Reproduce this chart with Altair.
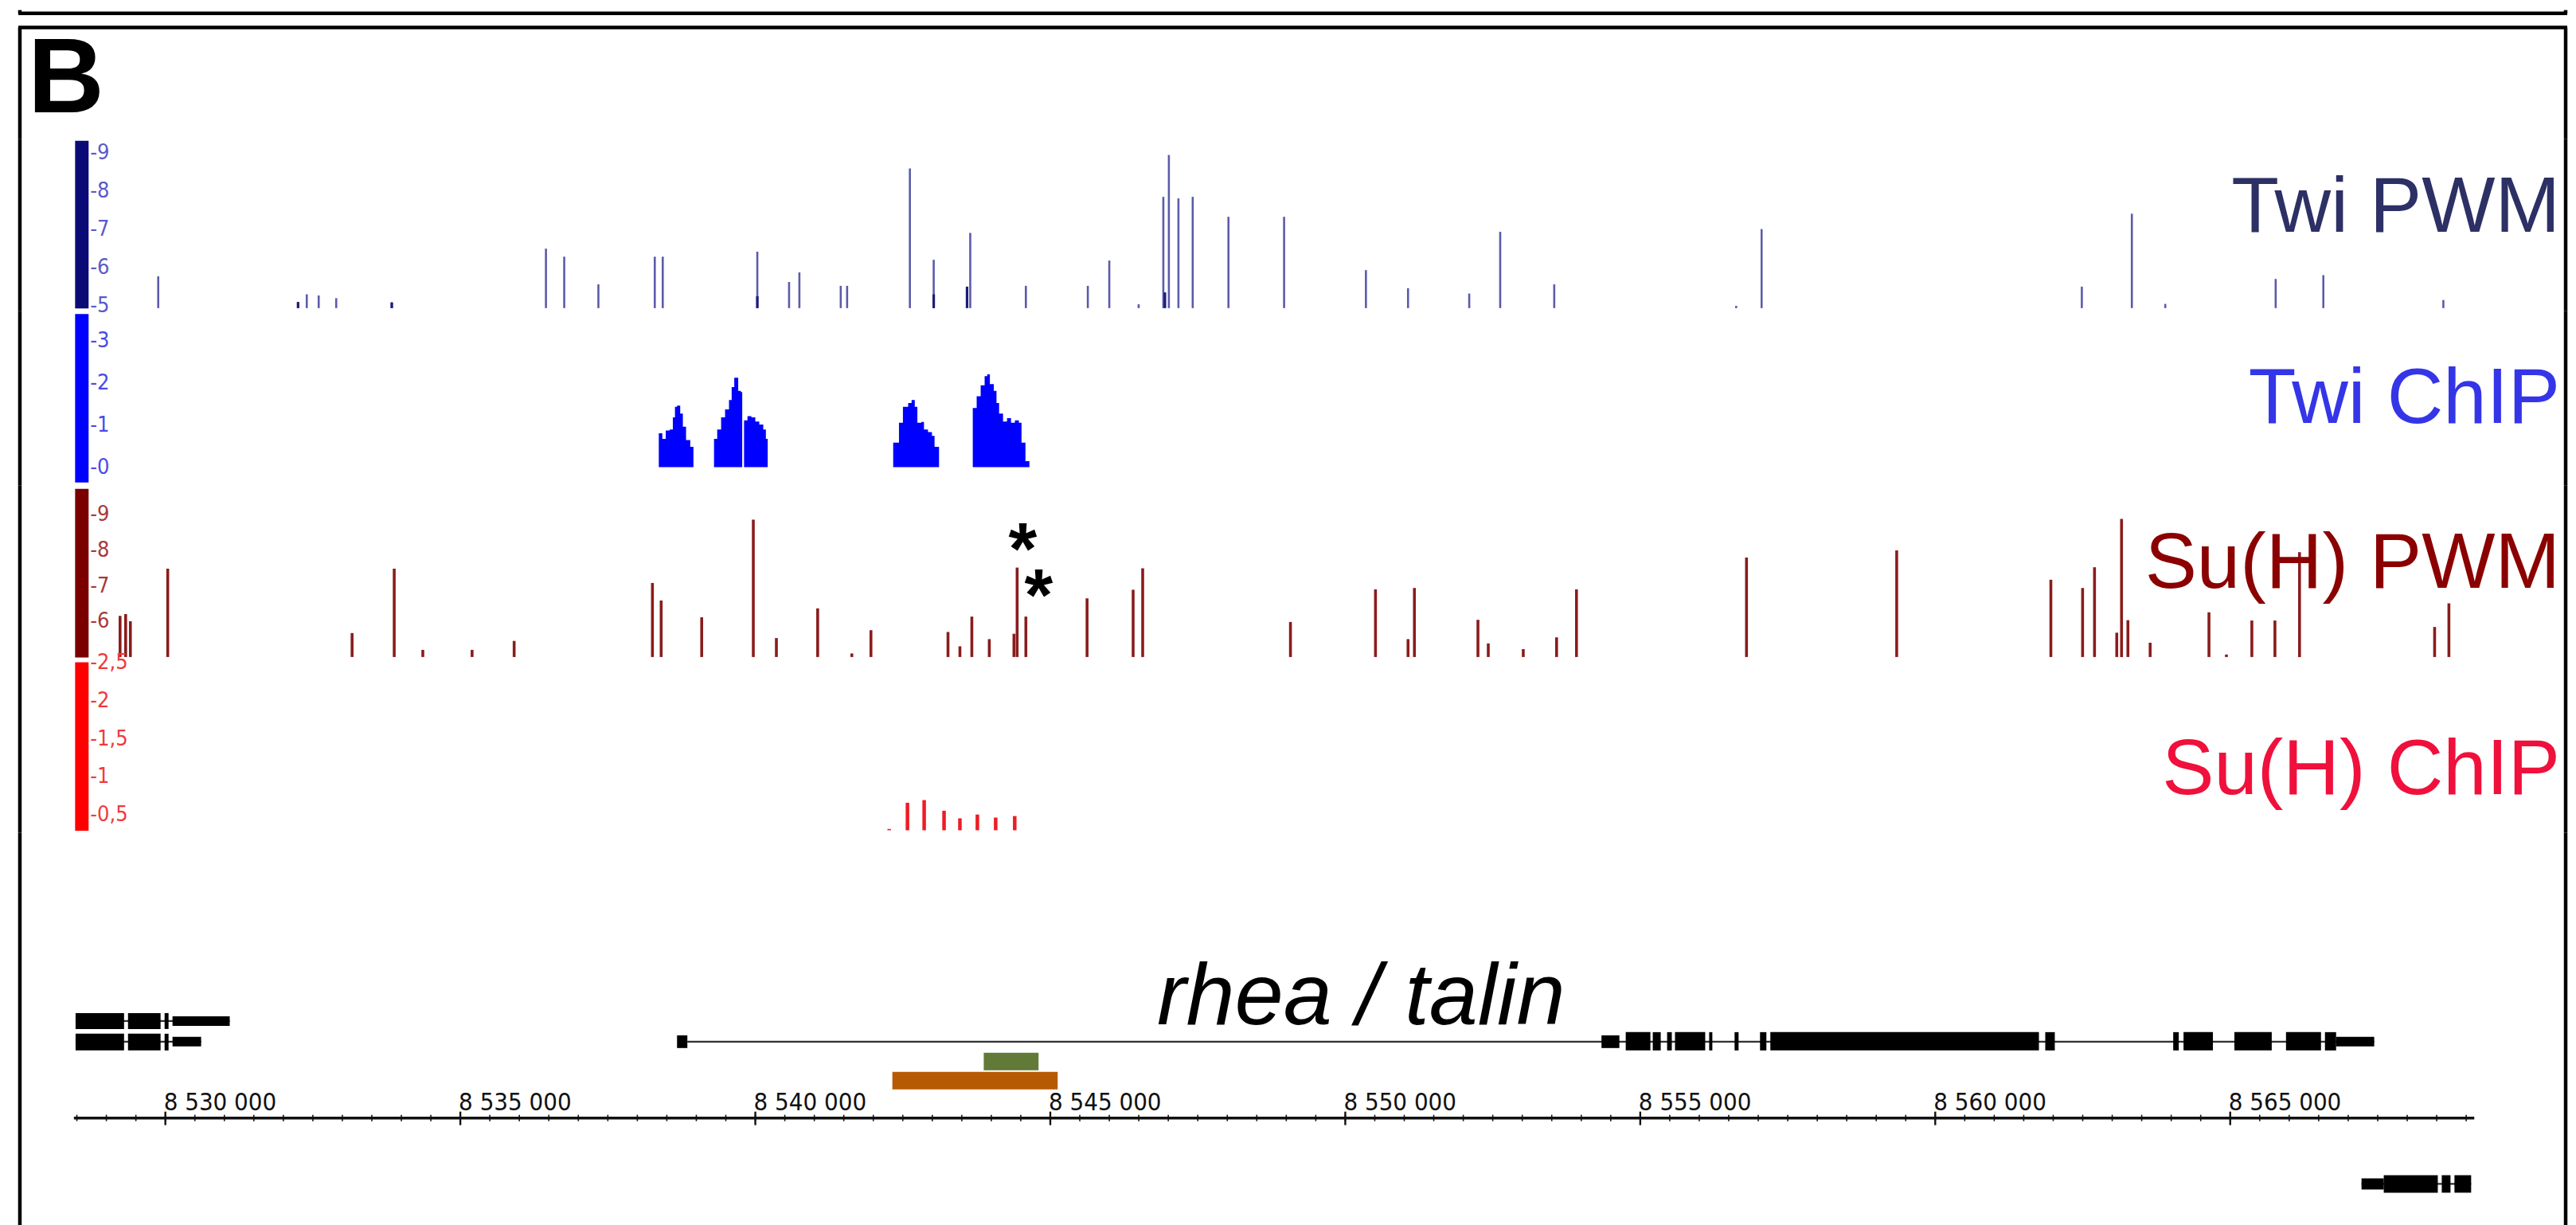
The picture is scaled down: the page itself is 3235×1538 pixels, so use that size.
import altair as alt
import pandas as pd

# ---------------- data (genomic positions in bp, scores as read) ----------------
TWI_PWM_POS = [8529879, 8532249, 8532397, 8532599, 8532896, 8533838, 8536451, 8536761, 8537340,
               8538296, 8538431, 8540034, 8540572, 8540747, 8541448, 8541556, 8542620, 8543024,
               8543643, 8544586, 8545636, 8546000, 8546498, 8546916, 8547010, 8547172, 8547414,
               8548020, 8548963, 8550350, 8551064, 8552101, 8552626, 8553542, 8556626, 8557057,
               8562485, 8563333, 8563899, 8565771, 8566579, 8568613]
TWI_PWM_SCORE = [5.77, 5.1, 5.3, 5.27, 5.2, 5.1, 6.49, 6.28, 5.56,
                 6.28, 6.28, 6.41, 5.62, 5.87, 5.52, 5.52, 8.58, 6.2,
                 6.9, 5.52, 5.52, 6.18, 5.04, 7.84, 8.93, 7.8, 7.84,
                 7.32, 7.32, 5.93, 5.46, 5.32, 6.93, 5.56, 5.0, 7.0,
                 5.5, 7.4, 5.05, 5.7, 5.8, 5.15]
TWI_PWM_DARK_POS = [8532249, 8533838, 8540034, 8543024, 8543589, 8546943]
TWI_PWM_DARK_SCORE = [5.1, 5.08, 5.25, 5.3, 5.5, 5.35]

TWI_CHIP_POS = [8538364, 8538424, 8538482, 8538549, 8538602, 8538638, 8538673, 8538727, 8538772,
                8538826, 8538897, 8538951,
                8539300, 8539354, 8539420, 8539487, 8539554, 8539599, 8539643, 8539710, 8539755,
                8539778, 8539809, 8539867, 8539934, 8540000, 8540067, 8540135, 8540179, 8540210,
                8542337, 8542435, 8542502, 8542591, 8542649, 8542703, 8542747, 8542815, 8542859,
                8542927, 8542994, 8543038, 8543114,
                8543686, 8543752, 8543820, 8543887, 8543931, 8543976, 8544043, 8544088, 8544132,
                8544199, 8544267, 8544334, 8544400, 8544467, 8544512, 8544579, 8544646]
TWI_CHIP_SIGNAL = [0.80, 0.67, 0.87, 0.89, 1.18, 1.43, 1.46, 1.27, 0.96,
                   0.64, 0.48, 0.0,
                   0.67, 0.89, 1.18, 1.37, 1.59, 1.90, 2.12, 1.81, 1.78,
                   0.0, 1.11, 1.21, 1.18, 1.08, 1.01, 0.89, 0.67, 0.0,
                   0.58, 1.05, 1.43, 1.52, 1.59, 1.43, 1.05, 1.07, 0.89,
                   0.83, 0.74, 0.48, 0.0,
                   1.40, 1.68, 1.94, 2.16, 2.20, 1.97, 1.81, 1.52, 1.27,
                   1.08, 1.16, 1.05, 1.11, 1.05, 0.58, 0.14, 0.0]

SUH_PWM_POS = [8529232, 8529327, 8529407, 8530040, 8533165, 8533879, 8534364, 8535199, 8535912,
               8538256, 8538404, 8539091, 8539966, 8540357, 8541057, 8541636, 8541960, 8543266,
               8543468, 8543670, 8543966, 8544384, 8544438, 8544586, 8545623, 8546404, 8546566,
               8549071, 8550512, 8551064, 8551172, 8552249, 8552424, 8553017, 8553582, 8553919,
               8556801, 8559347, 8561960, 8562498, 8562700, 8563077, 8563158, 8563266, 8563643,
               8564640, 8564936, 8565367, 8565758, 8566175, 8568465, 8568707]
SUH_PWM_SCORE = [6.15, 6.2, 6.0, 7.47, 5.67, 7.47, 5.2, 5.2, 5.45,
                 7.07, 6.58, 6.11, 8.84, 5.53, 6.36, 5.1, 5.75, 5.7,
                 5.3, 6.13, 5.5, 5.65, 7.5, 6.13, 6.64, 6.88, 7.48,
                 5.98, 6.89, 5.5, 6.93, 6.04, 5.38, 5.22, 5.55, 6.89,
                 7.78, 7.98, 7.16, 6.93, 7.51, 5.68, 8.86, 6.03, 5.4,
                 6.25, 5.07, 6.02, 6.02, 7.93, 5.84, 6.5]
STAR_POS = [8544532, 8544801]
STAR_SCORE = [8.3, 7.0]

SUH_CHIP_POS = [8542269, 8542579, 8542862, 8543199, 8543468, 8543764, 8544074, 8544397]
SUH_CHIP_SIGNAL = [0.31, 0.655, 0.69, 0.55, 0.45, 0.5, 0.46, 0.48]

# gene models: (start, end) in bp
RHEA_SPAN = [(8538848, 8567441)]
RHEA_CDS = [(8554754, 8555172), (8555212, 8555347), (8555455, 8555535), (8555589, 8556101),
            (8556168, 8556222), (8556599, 8556667), (8557030, 8557138), (8557205, 8561758),
            (8561865, 8562027), (8564034, 8564128), (8564209, 8564707), (8565071, 8565704),
            (8565946, 8566539), (8566606, 8566795)]
RHEA_UTR5 = [(8538673, 8538848), (8554343, 8554646)]
RHEA_UTR3 = [(8566795, 8567441)]
LEFT_A_SPAN = [(8528478, 8531091)]
LEFT_A_CDS = [(8528478, 8529300), (8529367, 8529919), (8529987, 8530054)]
LEFT_A_UTR = [(8530121, 8531091)]
LEFT_B_SPAN = [(8528478, 8530606)]
LEFT_B_CDS = [(8528478, 8529300), (8529367, 8529919), (8529987, 8530054)]
LEFT_B_UTR = [(8530121, 8530606)]
RIGHT_SPAN = [(8567226, 8569084)]
RIGHT_CDS = [(8567603, 8568519), (8568586, 8568734), (8568801, 8569084)]
RIGHT_UTR = [(8567226, 8567603)]
GREEN_REGION = [(8543872, 8544801)]
ORANGE_REGION = [(8542323, 8545125)]

RULER_SPAN = [(8528450, 8569137)]
MAJOR_TICKS = [8530000, 8535000, 8540000, 8545000, 8550000, 8555000, 8560000, 8565000]
MAJOR_LABELS = ["8 530 000", "8 535 000", "8 540 000", "8 545 000",
                "8 550 000", "8 555 000", "8 560 000", "8 565 000"]
MINOR_TICKS = list(range(8528500, 8569001, 500))

TRACK_NAMES = ["Twi PWM", "Twi ChIP", "Su(H) PWM", "Su(H) ChIP"]
GENE_NAME = "rhea / talin"

# ---------------- layout / style ----------------
W = 3208
X_DOMAIN = [8527507, 8570713]
AXIS_X = 79.5
FONT = "Liberation Sans, Arial, Helvetica, sans-serif"
TICK_FONT = "DejaVu Sans Condensed, DejaVu Sans, sans-serif"
one = pd.DataFrame({"k": [0]})


def X(field="pos"):
    return alt.X(f"{field}:Q", scale=alt.Scale(domain=X_DOMAIN, nice=False, zero=False), axis=None)


def frame(h, top=0):
    base = alt.Chart(one).mark_rule(color="black", strokeWidth=4.5)
    return [base.encode(x=alt.value(2), y=alt.value(top), y2=alt.value(h)),
            base.encode(x=alt.value(W - 2), y=alt.value(top), y2=alt.value(h))]


def yenc(field, lo, hi, rng, values, label_color, bar_color):
    return alt.Y(f"{field}:Q",
                 scale=alt.Scale(domain=[lo, hi], range=rng, nice=False, zero=False),
                 axis=alt.Axis(orient="right", offset=AXIS_X - W, domainColor=bar_color,
                               domainWidth=17, domainCap="butt", ticks=False, tickSize=0,
                               labelPadding=10.5, labelColor=label_color, labelFont=TICK_FONT,
                               labelFontSize=27, values=values, grid=False, title=None,
                               labelOverlap=False, labelFlush=False,
                               labelExpr="'-' + replace(toString(datum.value), '.', ',')"))


def track_label(text, color, level):
    return alt.Chart(one).mark_text(text=text, color=color, font=FONT, fontSize=98,
                                    align="right", baseline="middle").encode(
        x=alt.value(W - 9), y=alt.datum(level))


# ---------------- header panel ----------------
H0 = 162
header = alt.layer(
    alt.Chart(one).mark_rule(color="black", strokeWidth=4.5).encode(
        x=alt.value(0), x2=alt.value(W), y=alt.value(4)),
    alt.Chart(one).mark_rule(color="black", strokeWidth=4.5).encode(
        x=alt.value(2), y=alt.value(0), y2=alt.value(4)),
    alt.Chart(one).mark_rule(color="black", strokeWidth=4.5).encode(
        x=alt.value(W - 2), y=alt.value(0), y2=alt.value(4)),
    alt.Chart(one).mark_rule(color="black", strokeWidth=4.5).encode(
        x=alt.value(0), x2=alt.value(W), y=alt.value(22)),
    *frame(H0, 22),
    alt.Chart(one).mark_text(text="B", font=FONT, fontSize=133, fontWeight="bold", color="black",
                             align="left", baseline="alphabetic").encode(
        x=alt.value(12), y=alt.value(129)),
).properties(width=W, height=H0)

# ---------------- Twi PWM ----------------
H1 = 217
twi_pwm = pd.DataFrame({"pos": TWI_PWM_POS, "score": TWI_PWM_SCORE})
twi_dark = pd.DataFrame({"pos": TWI_PWM_DARK_POS, "score": TWI_PWM_DARK_SCORE})
y1 = yenc("score", 4.94, 9.31, [213, 2], [5, 6, 7, 8, 9], "#5a5ac8", "#0b0b78")
p1 = alt.layer(
    alt.Chart(twi_pwm).mark_rule(color="#5b5bab", strokeWidth=2.6).encode(
        x=X(), y=y1, y2=alt.datum(4.94)),
    alt.Chart(twi_dark).mark_rule(color="#1c1c7a", strokeWidth=3.2).encode(
        x=X(), y=alt.Y("score:Q"), y2=alt.datum(4.94)),
    track_label(TRACK_NAMES[0], "#2d3065", 7.54),
    *frame(H1),
).properties(width=W, height=H1)

# ---------------- Twi ChIP ----------------
H2 = 219
twi_chip = pd.DataFrame({"pos": TWI_CHIP_POS, "signal": TWI_CHIP_SIGNAL})
y2e = yenc("signal", -0.358, 3.64, [215, 3], [0, 1, 2, 3], "#4a4ae6", "#0000ff")
p2 = alt.layer(
    alt.Chart(twi_chip).mark_area(color="#0000ff", interpolate="step-after").encode(
        x=X(), y=y2e, y2=alt.datum(0)),
    track_label(TRACK_NAMES[1], "#3535e8", 1.59),
    *frame(H2),
).properties(width=W, height=H2)

# ---------------- Su(H) PWM ----------------
H3 = 219
suh_pwm = pd.DataFrame({"pos": SUH_PWM_POS, "score": SUH_PWM_SCORE})
stars = pd.DataFrame({"pos": STAR_POS, "score": STAR_SCORE})
y3 = yenc("score", 5.0, 9.71, [216, 4], [6, 7, 8, 9], "#a83838", "#7a0000")
p3 = alt.layer(
    alt.Chart(suh_pwm).mark_rule(color="#8a1c1c", strokeWidth=3.6).encode(
        x=X(), y=y3, y2=alt.datum(5.0)),
    alt.Chart(stars).mark_text(text="*", font=FONT, fontSize=92, fontWeight="bold",
                               color="black", align="center", baseline="alphabetic", dy=44).encode(
        x=X(), y=alt.Y("score:Q")),
    track_label(TRACK_NAMES[2], "#8b0000", 7.57),
    *frame(H3),
).properties(width=W, height=H3)

# ---------------- Su(H) ChIP ----------------
H4 = 218
suh_chip = pd.DataFrame({"pos": SUH_CHIP_POS, "signal": SUH_CHIP_SIGNAL})
y4 = yenc("signal", 0.293, 2.51, [215, 3], [0.5, 1, 1.5, 2, 2.5], "#f03a3a", "#ff0000")
p4 = alt.layer(
    alt.Chart(suh_chip).mark_rule(color="#ee1c24", strokeWidth=4.5).encode(
        x=X(), y=y4, y2=alt.datum(0.293)),
    track_label(TRACK_NAMES[3], "#f0103c", 1.07),
    *frame(H4),
).properties(width=W, height=H4)

# ---------------- genes + ruler ----------------
H5 = 495


def spans(lst):
    return pd.DataFrame({"start": [a for a, b in lst], "end": [b for a, b in lst]})


def boxes(lst, top, bottom, color="black"):
    return alt.Chart(spans(lst)).mark_rect(color=color).encode(
        x=X("start"), x2="end:Q", y=alt.value(top), y2=alt.value(bottom))


def line(lst, yc, width=2.2, color="#303030"):
    return alt.Chart(spans(lst)).mark_rule(color=color, strokeWidth=width).encode(
        x=X("start"), x2="end:Q", y=alt.value(yc))


majors = pd.DataFrame({"pos": MAJOR_TICKS, "label": MAJOR_LABELS})
minors = pd.DataFrame({"pos": MINOR_TICKS})

p5 = alt.layer(
    # left neighbouring gene, two transcripts
    line(LEFT_A_SPAN, 237), boxes(LEFT_A_CDS, 227, 247), boxes(LEFT_A_UTR, 231, 243),
    line(LEFT_B_SPAN, 263), boxes(LEFT_B_CDS, 253, 274), boxes(LEFT_B_UTR, 257, 269),
    # rhea / talin
    line(RHEA_SPAN, 263, 2.4), boxes(RHEA_CDS, 251, 274), boxes(RHEA_UTR5, 255, 271),
    boxes(RHEA_UTR3, 257, 269),
    alt.Chart(one).mark_text(text=GENE_NAME, font=FONT, fontSize=110, fontStyle="italic",
                             color="black", align="center", baseline="alphabetic").encode(
        x=alt.value(1690), y=alt.value(241)),
    # fragments
    boxes(GREEN_REGION, 277, 299, "#617a37"),
    boxes(ORANGE_REGION, 301, 323, "#b65a04"),
    # ruler
    line(RULER_SPAN, 359, 3.5, "#111111"),
    alt.Chart(minors).mark_rule(color="#111111", strokeWidth=1.6).encode(
        x=X(), y=alt.value(355), y2=alt.value(363)),
    alt.Chart(majors).mark_rule(color="#111111", strokeWidth=2.4).encode(
        x=X(), y=alt.value(351), y2=alt.value(368)),
    alt.Chart(majors).mark_text(font=TICK_FONT, fontSize=31, color="#111111", align="left",
                                baseline="alphabetic", dx=-2).encode(
        x=X(), y=alt.value(349), text="label:N"),
    # right neighbouring gene
    line(RIGHT_SPAN, 442), boxes(RIGHT_CDS, 431, 453), boxes(RIGHT_UTR, 435, 449),
    *frame(H5),
).properties(width=W, height=H5)

chart = alt.vconcat(header, p1, p2, p3, p4, p5, spacing=0, bounds="flush").resolve_scale(
    x="independent", y="independent").properties(
    padding={"left": 12, "top": 0, "right": 0, "bottom": 0}).configure_view(stroke=None)

chart.save("out.html", embed_options={"renderer": "svg", "actions": False})
